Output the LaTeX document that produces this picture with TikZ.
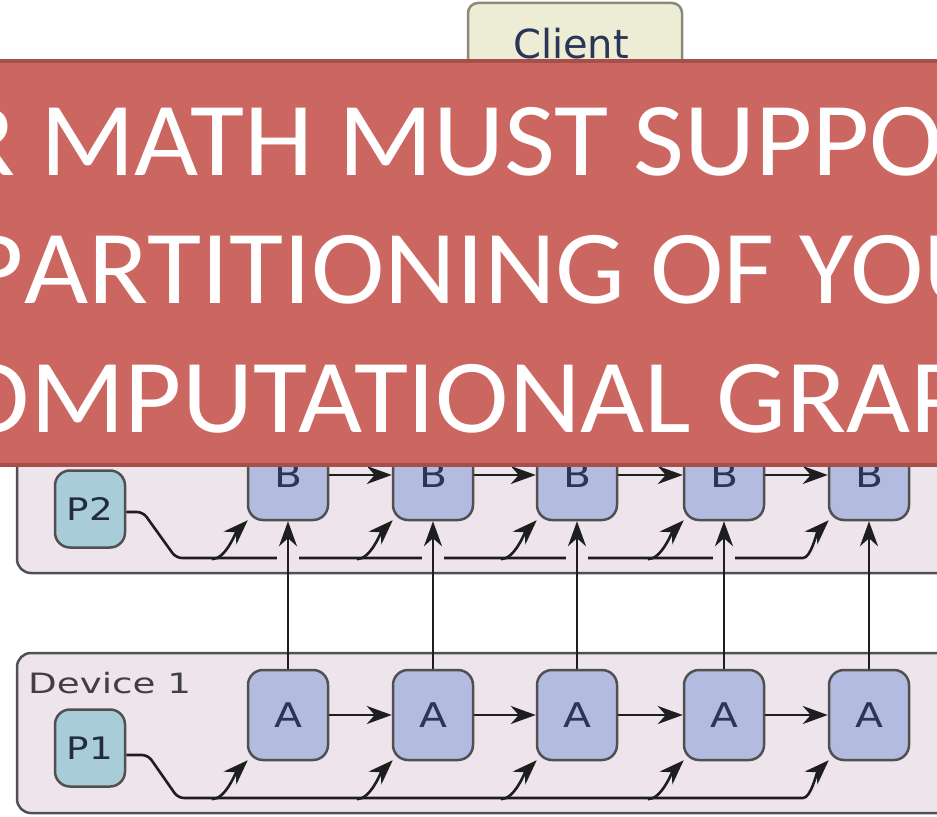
\documentclass[tikz,border=0pt]{standalone}
\usepackage{fontspec}
\usetikzlibrary{arrows.meta}
\newfontfamily\bannerfont[FakeStretch=1.055]{Carlito}
\newfontfamily\diafont[FakeStretch=1.2]{DejaVu Sans}
\newfontfamily\clientfont{DejaVu Sans}
\newfontfamily\devfont[FakeStretch=1.33]{DejaVu Sans}
\definecolor{devfill}{HTML}{EEE4EC}
\definecolor{devline}{HTML}{505050}
\definecolor{opfill}{HTML}{B3BCE0}
\definecolor{pfill}{HTML}{A8CDD8}
\definecolor{clientfill}{HTML}{EDEDD6}
\definecolor{clientline}{HTML}{8A8A7A}
\definecolor{labelcol}{HTML}{2B3556}
\definecolor{bannerfill}{HTML}{CC6660}
\definecolor{bannerline}{HTML}{A5504B}
\definecolor{wirecol}{HTML}{1E1E1E}
\tikzset{
  devbox/.style={draw=devline, fill=devfill, line width=2.5bp, rounded corners=14bp},
  opbox/.style={draw=devline, fill=opfill, line width=2.5bp, rounded corners=15bp,
    minimum width=80bp, minimum height=90bp, inner sep=0pt, text=labelcol,
    font=\diafont\fontsize{34bp}{34bp}\selectfont},
  pbox/.style={draw=devline, fill=pfill, line width=2.5bp, rounded corners=15bp,
    minimum width=70bp, minimum height=77bp, inner sep=0pt, text=labelcol!80!black,
    font=\diafont\fontsize{31bp}{31bp}\selectfont},
  arr/.style={draw=wirecol, line width=2.6bp, -{Stealth[length=25bp,width=18bp,inset=8bp]}},
  bannertext/.style={text=white, inner sep=0pt, anchor=base west,
    font=\bannerfont\fontsize{105bp}{120bp}\selectfont}
}
\begin{document}
\begin{tikzpicture}[x=1bp,y=-1bp]
\useasboundingbox (0,0) rectangle (937,817);
\clip (0,0) rectangle (937,817);
% client
\draw[draw=clientline, fill=clientfill, line width=2.5bp, rounded corners=10bp] (468,3) rectangle (682,120);
\node[anchor=base, inner sep=0pt, text=labelcol, font=\clientfont\fontsize{40bp}{40bp}\selectfont] (clientlabel) at (571,59) {Client};
% device boxes
\draw[devbox] (17,380) rectangle (970,573);
\draw[devbox] (17,653) rectangle (970,813);
\node[anchor=base west, inner sep=0pt, text=devline!80!black, font=\devfont\fontsize{28bp}{28bp}\selectfont] (dev1label) at (28,693) {Device 1};
% ops
\foreach \i/\x in {1/288,2/433,3/577,4/724,5/869}{
  \node[opbox] (a\i) at (\x,715) {A};
  \node[opbox] (b\i) at (\x,475) {B};
}
\node[pbox] (p1) at (90,748) {P1};
\node[pbox] (p2) at (90,509) {P2};
% chain arrows
\foreach \i/\j in {1/2,2/3,3/4,4/5}{
  \draw[arr] (a\i) -- (a\j);
  \draw[arr] (b\i) -- (b\j);
}
% P1 wiring
\draw[arr, rounded corners=6bp] ([yshift=-7bp]p1.east) -- (148,755) -- (178,798) -- (797,798)
   .. controls +(14,0) and +(-12,12) .. ([shift={(1,-1)}]a5.south west);
\foreach \i in {1,2,3,4}{
  \draw[arr] ([shift={(-35,38)}]a\i.south west) .. controls +(14,0) and +(-12,12) .. ([shift={(1,-1)}]a\i.south west);
}
% P2 wiring
\draw[arr, rounded corners=6bp] ([yshift=-3bp]p2.east) -- (143,512) -- (176,558) -- (797,558)
   .. controls +(14,0) and +(-12,12) .. ([shift={(1,-1)}]b5.south west);
\foreach \i in {1,2,3,4}{
  \draw[arr] ([shift={(-35,38)}]b\i.south west) .. controls +(14,0) and +(-12,12) .. ([shift={(1,-1)}]b\i.south west);
  \fill[devfill] ([shift={(-11,33)}]b\i.south) rectangle ([shift={(11,43)}]b\i.south);
}
% vertical arrows
\foreach \i in {1,...,5}{
  \draw[arr] (a\i.north) -- (b\i.south);
}
% banner
\draw[draw=bannerline, fill=bannerfill, line width=4bp] (-10,61) rectangle (947,465);
\node[bannertext] (line1) at (40,175) {\llap{YOUR }MATH MUST SUPPORT};
\node[bannertext] (line2) at (24,303) {\llap{P}ARTITIONING OF YOUR};
\node[bannertext] (line3) at (30,432) {\llap{CO}MPUTATIONAL GRAPH};
\end{tikzpicture}
\end{document}
